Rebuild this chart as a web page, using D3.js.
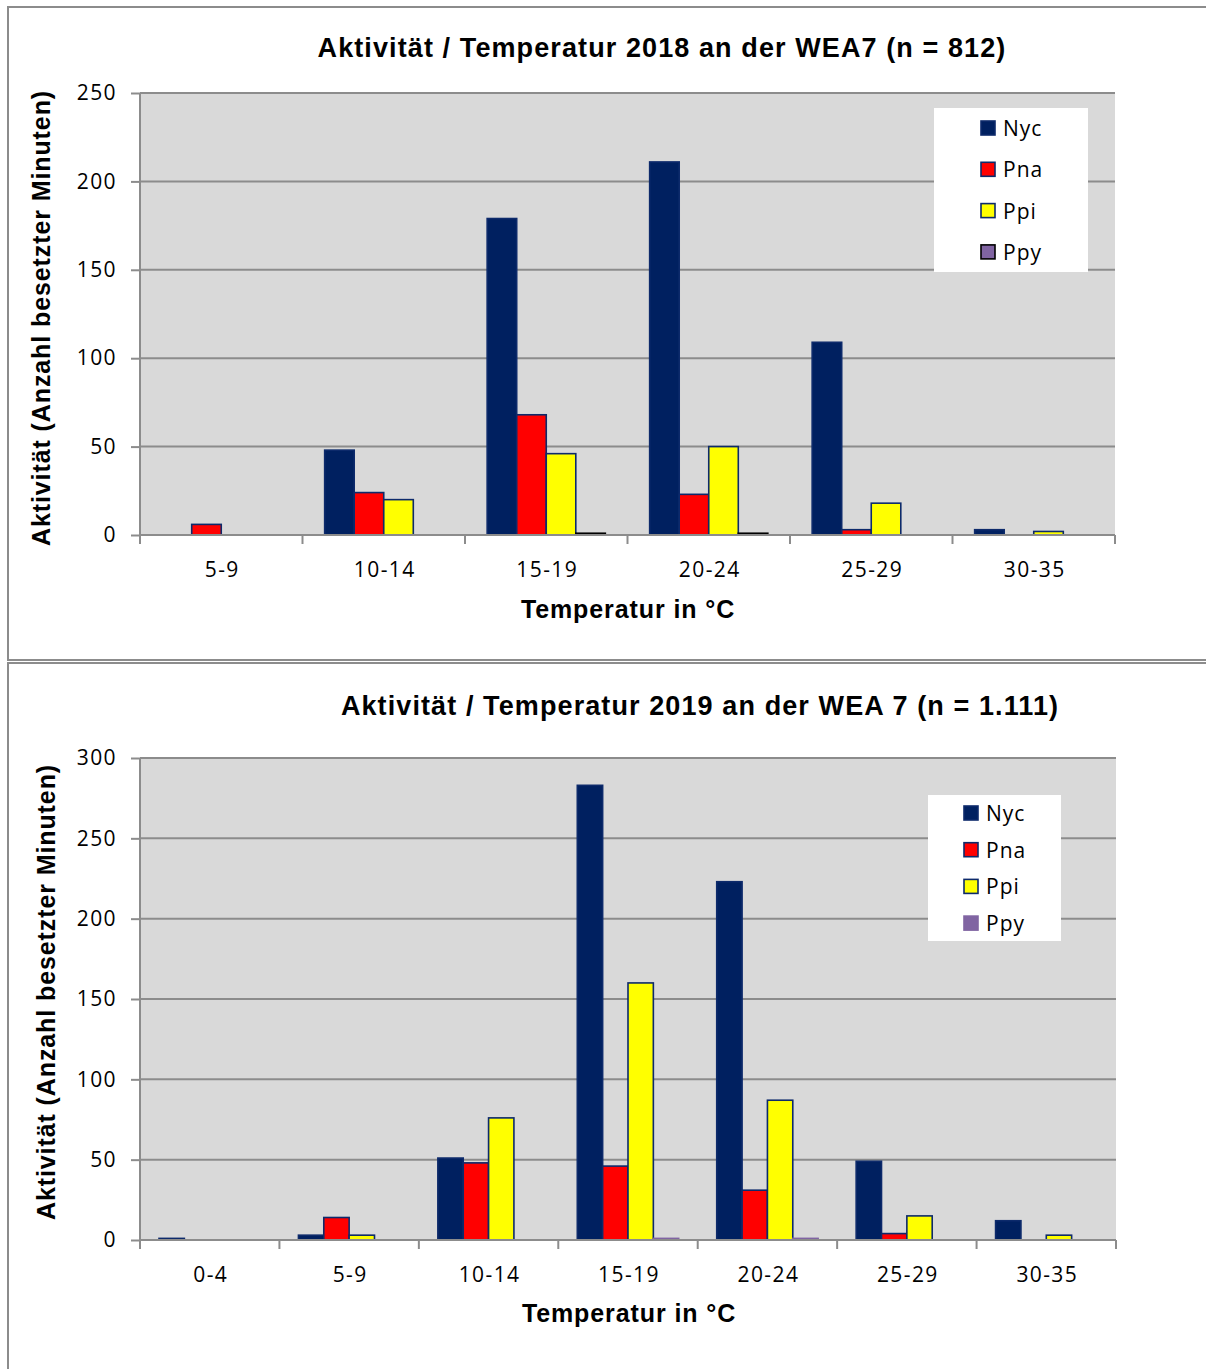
<!DOCTYPE html>
<html>
<head>
<meta charset="utf-8">
<script src="https://cdn.jsdelivr.net/npm/d3@7"></script>
<style>
  html, body { margin: 0; padding: 0; background: #fff; }
  svg { display: block; }
</style>
</head>
<body>
<svg id="chart" width="1206" height="1369"></svg>
<script>
// Series names and colours
const seriesNames = ["Nyc", "Pna", "Ppi", "Ppy"];
const seriesFill = ["#002060", "#FF0000", "#FFFF00", "#8064A2"];

// 2018, WEA7
const categories2018 = ["5-9", "10-14", "15-19", "20-24", "25-29", "30-35"];
const nyc2018 = [0, 48, 179, 211, 109, 3];
const pna2018 = [6, 24, 68, 23, 3, 0];
const ppi2018 = [0, 20, 46, 50, 18, 2];
const ppy2018 = [0, 0, 1, 1, 0, 0];
const yTicks2018 = [0, 50, 100, 150, 200, 250];

// 2019, WEA 7
const categories2019 = ["0-4", "5-9", "10-14", "15-19", "20-24", "25-29", "30-35"];
const nyc2019 = [1, 3, 51, 283, 223, 49, 12];
const pna2019 = [0, 14, 48, 46, 31, 4, 0];
const ppi2019 = [0, 3, 76, 160, 87, 15, 3];
const ppy2019 = [0, 0, 0, 1, 1, 0, 0];
const yTicks2019 = [0, 50, 100, 150, 200, 250, 300];

const svg = d3.select("#chart");
const tickFont = "'Open Sans', 'DejaVu Sans', sans-serif";
const boldFont = "'Liberation Sans', Arial, sans-serif";

function drawPanel(cfg) {
  const g = svg.append("g");

  // outer frame
  g.append("rect")
    .attr("x", cfg.frame.x).attr("y", cfg.frame.y)
    .attr("width", cfg.frame.w).attr("height", cfg.frame.h)
    .attr("fill", "#fff").attr("stroke", "#8c8c8c").attr("stroke-width", 2);

  const p = cfg.plot;
  const x = d3.scaleBand().domain(cfg.categories).range([p.left, p.right]).paddingInner(0).paddingOuter(0);
  const xs = d3.scaleBand().domain(seriesNames).range([0, x.bandwidth()]).paddingInner(0).paddingOuter(0.75);
  const y = d3.scaleLinear().domain([0, d3.max(cfg.yTicks)]).range([p.bottom, p.top]);

  // plot background
  g.append("rect")
    .attr("x", p.left).attr("y", p.top)
    .attr("width", p.right - p.left).attr("height", p.bottom - p.top)
    .attr("fill", "#d9d9d9");

  // horizontal gridlines
  g.append("g").selectAll("line").data(cfg.yTicks.filter(t => t > 0)).join("line")
    .attr("x1", p.left).attr("x2", p.right)
    .attr("y1", d => y(d)).attr("y2", d => y(d))
    .attr("stroke", "#8c8c8c").attr("stroke-width", 2);

  // bars
  const rows = [];
  cfg.series.forEach((vals, si) => {
    vals.forEach((v, ci) => {
      if (v > 0) rows.push({ s: seriesNames[si], si, c: cfg.categories[ci], v });
    });
  });
  g.append("g").selectAll("rect").data(rows).join("rect")
    .attr("x", d => x(d.c) + xs(d.s))
    .attr("y", d => y(d.v))
    .attr("width", xs.bandwidth())
    .attr("height", d => y(0) - y(d.v))
    .attr("fill", d => seriesFill[d.si])
    .attr("stroke", d => d.si === 3 ? cfg.ppyStroke : "#0d2a6b")
    .attr("stroke-width", 1.6);

  // y axis
  const yAxis = d3.axisLeft(y).tickValues(cfg.yTicks).tickSize(9).tickPadding(14).tickFormat(d3.format("d"));
  const ya = g.append("g").attr("transform", `translate(${p.left},0)`).call(yAxis);
  ya.select(".domain").attr("stroke", "#8c8c8c").attr("stroke-width", 2).attr("d", `M0,${p.top}V${p.bottom}`);
  ya.selectAll(".tick line").attr("stroke", "#8c8c8c").attr("stroke-width", 2);
  ya.selectAll(".tick text").attr("font-family", tickFont).attr("font-size", 21)
    .attr("letter-spacing", 1.4).attr("fill", "#000");

  // x axis: ticks on category boundaries, labels centred in categories
  const xa = g.append("g").attr("transform", `translate(0,${p.bottom})`);
  xa.append("line").attr("x1", p.left).attr("x2", p.right).attr("y1", 0).attr("y2", 0)
    .attr("stroke", "#8c8c8c").attr("stroke-width", 2);
  const bounds = cfg.categories.map(c => x(c)).concat([p.right]);
  xa.selectAll("line.b").data(bounds).join("line").attr("class", "b")
    .attr("x1", d => d).attr("x2", d => d).attr("y1", 0).attr("y2", 9)
    .attr("stroke", "#8c8c8c").attr("stroke-width", 2);
  xa.selectAll("text").data(cfg.categories).join("text")
    .attr("x", d => x(d) + x.bandwidth() / 2 + 1).attr("y", 42)
    .attr("text-anchor", "middle")
    .attr("font-family", tickFont).attr("font-size", 21).attr("letter-spacing", 1.4).attr("fill", "#000")
    .text(d => d);

  // titles
  g.append("text").attr("x", cfg.titleX).attr("y", cfg.titleY)
    .attr("text-anchor", "middle").attr("font-family", boldFont).attr("font-weight", "bold")
    .attr("font-size", 27).attr("letter-spacing", 1.1).text(cfg.title);
  g.append("text").attr("x", cfg.xTitleX).attr("y", cfg.xTitleY)
    .attr("text-anchor", "middle").attr("font-family", boldFont).attr("font-weight", "bold")
    .attr("font-size", 25).attr("letter-spacing", 0.9).text("Temperatur in °C");
  g.append("text")
    .attr("transform", `translate(${cfg.yTitleX},${cfg.yTitleY}) rotate(-90)`)
    .attr("text-anchor", "middle").attr("font-family", boldFont).attr("font-weight", "bold")
    .attr("font-size", 25).attr("letter-spacing", 0.9).text("Aktivität (Anzahl besetzter Minuten)");

  // legend
  const L = cfg.legend;
  g.append("rect").attr("x", L.x).attr("y", L.y).attr("width", L.w).attr("height", L.h).attr("fill", "#fff");
  const li = g.append("g").selectAll("g").data(seriesNames).join("g")
    .attr("transform", (d, i) => `translate(${L.sx},${L.y0 + i * L.dy})`);
  li.append("rect").attr("x", 0).attr("y", -7).attr("width", 14).attr("height", 14)
    .attr("fill", (d, i) => seriesFill[i])
    .attr("stroke", (d, i) => i === 3 ? cfg.ppyLegendStroke : "#0d2a6b")
    .attr("stroke-width", 1.6);
  li.append("text").attr("x", 22).attr("y", 8)
    .attr("font-family", tickFont).attr("font-size", 21).attr("letter-spacing", 1).attr("fill", "#000")
    .text(d => d);
}

drawPanel({
  frame: { x: 8, y: 7, w: 1210, h: 653 },
  plot: { left: 140, right: 1115, top: 93, bottom: 535 },
  categories: categories2018,
  series: [nyc2018, pna2018, ppi2018, ppy2018],
  yTicks: yTicks2018,
  ppyStroke: "#000",
  ppyLegendStroke: "#000",
  title: "Aktivität / Temperatur 2018 an der WEA7 (n = 812)",
  titleX: 662, titleY: 57,
  xTitleX: 628, xTitleY: 618,
  yTitleX: 50, yTitleY: 318,
  legend: { x: 934, y: 108, w: 154, h: 164, sx: 981, y0: 128, dy: 41.3 }
});

drawPanel({
  frame: { x: 8, y: 663, w: 1210, h: 720 },
  plot: { left: 140, right: 1116, top: 758, bottom: 1240 },
  categories: categories2019,
  series: [nyc2019, pna2019, ppi2019, ppy2019],
  yTicks: yTicks2019,
  ppyStroke: "#8064A2",
  ppyLegendStroke: "#8064A2",
  title: "Aktivität / Temperatur 2019 an der WEA 7 (n = 1.111)",
  titleX: 700, titleY: 715,
  xTitleX: 629, xTitleY: 1322,
  yTitleX: 55, yTitleY: 992,
  legend: { x: 928, y: 795, w: 133, h: 146, sx: 964, y0: 813, dy: 36.7 }
});
</script>
</body>
</html>
